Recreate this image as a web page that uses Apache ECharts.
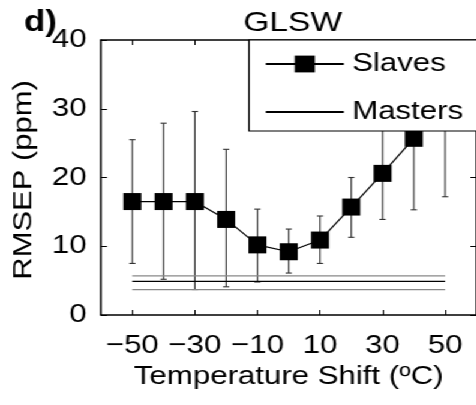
<!DOCTYPE html>
<html>
<head>
<meta charset="UTF-8">
<title></title>
<script src="https://cdn.jsdelivr.net/npm/echarts@6/dist/echarts.min.js"></script>
<style type="text/css">
  * { margin: 0; padding: 0; }
  body { width: 476px; height: 405px; overflow: hidden; background: #fff; }
  /* the source figure is stretched sideways, so the chart is drawn narrower and widened */
  #app { width: 397px; height: 405px; transform: scaleX(1.2); transform-origin: 0 0; background: #fff; }
</style>
</head>
<body>
<div id="app"></div>
<script type="text/javascript">
var shifts = [-50, -40, -30, -20, -10, 0, 10, 20, 30, 40, 50];
var slaveMean = [16.5, 16.5, 16.5, 13.9, 10.2, 9.2, 10.9, 15.7, 20.6, 25.7, 31.0];
var slaveLow  = [7.5, 5.2, 3.7, 4.1, 4.8, 6.1, 7.5, 11.3, 13.9, 15.3, 17.2];
var slaveHigh = [25.5, 27.9, 29.6, 24.1, 15.4, 12.5, 14.4, 20.0, 27.3, 36.1, 44.8];
var masterX = [-50, 50];
var masterMid = [4.9, 4.9];
var masterUpper = [5.7, 5.7];
var masterLower = [3.7, 3.7];
var xTicks = [-50, -30, -10, 10, 30, 50];

var font = 'Liberation Sans, Arial, sans-serif';
var myChart = echarts.init(document.getElementById('app'));

var meanData = [], barData = [];
for (var i = 0; i < shifts.length; i++) {
  meanData.push([shifts[i], slaveMean[i]]);
  barData.push([shifts[i], slaveLow[i], slaveHigh[i]]);
}
function pairs(xs, ys) {
  return xs.map(function (x, i) { return [x, ys[i]]; });
}

function renderBar(params, api) {
  var x = api.value(0);
  var lo = api.coord([x, api.value(1)]);
  var hi = api.coord([x, api.value(2)]);
  var w = 2.6;
  var st = { stroke: '#333', lineWidth: 1.1 };
  return {
    type: 'group',
    children: [
      { type: 'line', shape: { x1: lo[0], y1: lo[1], x2: hi[0], y2: hi[1] }, style: st },
      { type: 'line', shape: { x1: lo[0] - w, y1: lo[1], x2: lo[0] + w, y2: lo[1] }, style: st },
      { type: 'line', shape: { x1: hi[0] - w, y1: hi[1], x2: hi[0] + w, y2: hi[1] }, style: st }
    ]
  };
}

var axisLine = { show: true, onZero: false, lineStyle: { color: '#000', width: 1.5 } };
var tick = { show: true, inside: true, length: 5, lineStyle: { color: '#000' } };

var option = {
  animation: false,
  backgroundColor: '#fff',
  textStyle: { fontFamily: font },
  title: [
    { text: 'GLSW', left: 239, top: 4, textAlign: 'center',
      textStyle: { fontFamily: font, fontSize: 28, fontWeight: 'normal', color: '#000' } },
    { text: 'd)', left: 15, top: 3,
      textStyle: { fontFamily: font, fontSize: 29, fontWeight: 'bold', color: '#000' } }
  ],
  // y axis title: drawn as a graphic so its length can be kept despite the sideways stretch
  graphic: [{
    type: 'text', x: 19.5, y: 180, rotation: Math.PI / 2, scaleX: 1.19, scaleY: 0.87,
    style: { text: 'RMSEP (ppm)', font: '26px ' + font, fill: '#000', align: 'center', verticalAlign: 'middle' }
  }],
  legend: {
    orient: 'vertical',
    left: 207.5,
    top: 40,
    z: 10,
    padding: [8, 60, 3, 13],
    itemGap: 16,
    itemWidth: 65,
    itemHeight: 21,
    backgroundColor: '#fff',
    borderColor: '#000',
    borderWidth: 1.2,
    borderRadius: 0,
    data: ['Slaves', { name: 'Masters', itemStyle: { opacity: 0 } }],
    textStyle: { fontFamily: font, fontSize: 26, lineHeight: 32, color: '#000', padding: [0, 0, 0, 2] }
  },
  grid: { left: 84.2, top: 40, right: -1, bottom: 90 },
  xAxis: [{
    type: 'value', min: -60, max: 60, position: 'bottom',
    name: 'Temperature Shift (ºC)', nameLocation: 'middle', nameGap: 48,
    nameTextStyle: { fontFamily: font, fontSize: 26, color: '#000' },
    axisLine: axisLine,
    axisTick: Object.assign({ customValues: xTicks }, tick),
    axisLabel: { customValues: xTicks, margin: 18, fontFamily: font, fontSize: 26, color: '#000',
      formatter: function (v) { return v < 0 ? '\u2212' + (-v) : '' + v; } },
    splitLine: { show: false }
  }, {
    type: 'value', min: -60, max: 60, position: 'top',
    axisLine: axisLine,
    axisTick: Object.assign({ customValues: xTicks }, tick),
    axisLabel: { show: false },
    splitLine: { show: false }
  }],
  yAxis: [{
    type: 'value', min: 0, max: 40, interval: 10, position: 'left',
    axisLine: axisLine,
    axisTick: tick,
    axisLabel: { margin: 12, fontFamily: font, fontSize: 26, color: '#000' },
    splitLine: { show: false }
  }, {
    type: 'value', min: 0, max: 40, interval: 10, position: 'right',
    axisLine: axisLine,
    axisTick: tick,
    axisLabel: { show: false },
    splitLine: { show: false }
  }],
  series: [
    { name: 'Masters upper', type: 'line', data: pairs(masterX, masterUpper), symbol: 'none',
      lineStyle: { color: '#888', width: 1.3 } },
    { name: 'Masters lower', type: 'line', data: pairs(masterX, masterLower), symbol: 'none',
      lineStyle: { color: '#888', width: 1.3 } },
    { name: 'Masters', type: 'line', data: pairs(masterX, masterMid), symbol: 'none',
      itemStyle: { color: '#000' }, lineStyle: { color: '#000', width: 1.3 } },
    { name: 'Slaves bars', type: 'custom', renderItem: renderBar, data: barData, clip: true,
      encode: { x: 0, y: [1, 2] } },
    { name: 'Slaves', type: 'line', data: meanData, symbol: 'rect', symbolSize: [15, 17],
      itemStyle: { color: '#000', borderWidth: 0 }, lineStyle: { color: '#000', width: 1.2 } }
  ]
};

myChart.setOption(option);
</script>
</body>
</html>
